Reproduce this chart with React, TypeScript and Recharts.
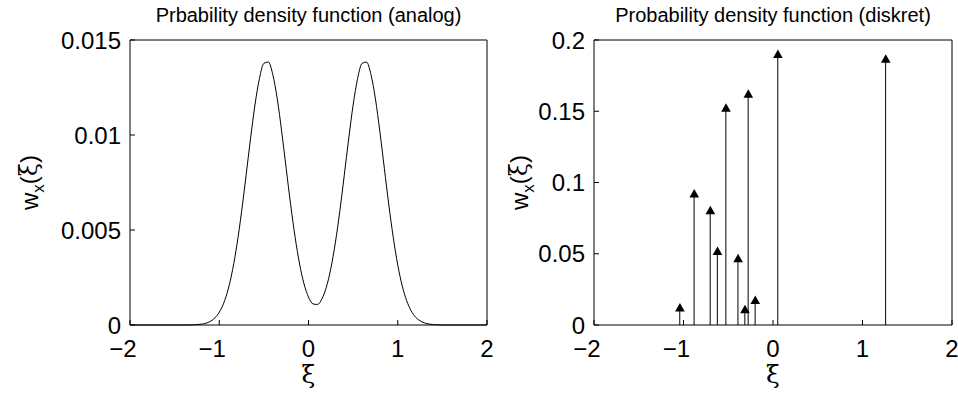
import React from 'react';
import { LineChart, ComposedChart, Line, Bar, Scatter, XAxis, YAxis } from 'recharts';

// analog density
const analogXi = [
    -2, -1.5, -1.45, -1.4, -1.35, -1.3, -1.25, -1.2, -1.15, -1.1,
    -1.05, -1, -0.95, -0.9, -0.85, -0.8, -0.75, -0.7, -0.65, -0.6,
    -0.55, -0.5, -0.45, -0.4, -0.35, -0.3, -0.25, -0.2, -0.15, -0.1,
    -0.05, 0, 0.05, 0.1, 0.15, 0.2, 0.25, 0.3, 0.35, 0.4,
    0.45, 0.5, 0.55, 0.6, 0.65, 0.7, 0.75, 0.8, 0.85, 0.9,
    0.95, 1, 1.05, 1.1, 1.15, 1.2, 1.25, 1.3, 1.35, 1.4,
    1.45, 1.5, 1.55, 1.6, 2,
];
const analogW = [
    0, 0, 0, 0.000001, 0.000003, 0.000008, 0.000019, 0.000044, 0.000093, 0.00019,
    0.00037, 0.00067, 0.00115, 0.00188, 0.00292, 0.00428, 0.00596, 0.00785, 0.00979, 0.01158,
    0.01297, 0.01377, 0.01384, 0.01318, 0.0119, 0.01017, 0.00824, 0.00633, 0.00462, 0.00321,
    0.00216, 0.00147, 0.00111, 0.00108, 0.00137, 0.00199, 0.00297, 0.00431, 0.00596, 0.00785,
    0.00979, 0.01158, 0.01297, 0.01377, 0.01384, 0.01318, 0.0119, 0.01017, 0.00824, 0.00632,
    0.0046, 0.00316, 0.00206, 0.00128, 0.00075, 0.00041, 0.00022, 0.00011, 0.00005, 0.00002,
    0.00001, 0, 0, 0, 0,
];

// discrete probabilities (stems)
const diskretXi = [-1.04, -0.88, -0.7, -0.62, -0.525, -0.39, -0.313, -0.276, -0.198, 0.055, 1.26];
const diskretW = [0.0123, 0.0922, 0.0805, 0.0519, 0.1524, 0.0468, 0.0111, 0.1622, 0.0176, 0.1902, 0.1869];

const xTicks = [-2, -1, 0, 1, 2];
const analogYTicks = [0, 0.005, 0.01, 0.015];
const diskretYTicks = [0, 0.05, 0.1, 0.15, 0.2];

const FONT = '"Liberation Sans", Arial, Helvetica, sans-serif';
const SERIF = '"DejaVu Serif", "Liberation Serif", serif';
const TICK_FS = 24;

const analogData = analogXi.map((xi, i) => ({ xi, w: analogW[i] }));
const diskretData = diskretXi.map((xi, i) => ({ xi, w: diskretW[i] }));

// x tick: digit centred on the tick, minus sign hanging to the left
const XTick = (props: any) => {
    const { x, y, payload } = props;
    const v = payload.value as number;
    const label = v < 0 ? '\u2212' + Math.abs(v) : String(v);
    return (
        <text
            x={v < 0 ? x + TICK_FS * 0.278 : x}
            y={y}
            dy="0.71em"
            textAnchor={v < 0 ? 'end' : 'middle'}
            fontSize={TICK_FS}
            fontFamily={FONT}
            fill="#000"
        >
            {label}
        </text>
    );
};

const XLabel = (props: any) => {
    const { viewBox } = props;
    return (
        <text
            x={viewBox.x + viewBox.width / 2}
            y={383}
            textAnchor="middle"
            fontSize={25}
            fontFamily={SERIF}
            fill="#000"
        >
            ξ
        </text>
    );
};

const YLabel = (props: any) => {
    const { viewBox } = props;
    const cx = 38;
    const cy = viewBox.y + viewBox.height / 2;
    return (
        <text
            x={cx}
            y={cy}
            transform={`rotate(-90 ${cx} ${cy})`}
            textAnchor="middle"
            fontSize={24}
            fontFamily={FONT}
            fill="#000"
        >
            <tspan>w</tspan>
            <tspan fontSize={17} dy={6}>x</tspan>
            <tspan dy={-7}>(</tspan>
            <tspan fontFamily={SERIF}>ξ</tspan>
            <tspan>)</tspan>
        </text>
    );
};

// upward triangle marker on top of each stem
const Arrow = (props: any) => {
    const { cx, cy } = props;
    if (cx == null || cy == null) return null;
    return <path d={`M${cx},${cy - 4.5} L${cx + 4.8},${cy + 4} L${cx - 4.8},${cy + 4} Z`} fill="#000" />;
};

const axisStroke = { stroke: '#000', strokeWidth: 1 };
const yTickStyle = { fontSize: TICK_FS, fill: '#000', fontFamily: FONT };

const Title: React.FC<{ left: number; width: number; text: string }> = ({ left, width, text }) => (
    <div
        style={{
            position: 'absolute',
            left,
            top: 5,
            width,
            textAlign: 'center',
            fontSize: 20,
            lineHeight: '20px',
            fontFamily: FONT,
            color: '#000',
            whiteSpace: 'nowrap',
        }}
    >
        {text}
    </div>
);

const App: React.FC = () => {
    return (
        <div style={{ position: 'absolute', left: 0, top: 0, width: 958, height: 394, background: '#fff' }}>
            <Title left={130} width={357} text="Prbability density function (analog)" />
            <Title left={594} width={358} text="Probability density function (diskret)" />

            <div style={{ position: 'absolute', left: 0, top: 0 }}>
                <LineChart width={520} height={394} data={analogData} margin={{ top: 39, right: 32, bottom: 0, left: 0 }}>
                    <XAxis
                        dataKey="xi"
                        type="number"
                        domain={[-2, 2]}
                        ticks={xTicks}
                        height={69}
                        tickSize={-5}
                        tickMargin={20}
                        axisLine={axisStroke}
                        tickLine={axisStroke}
                        tick={<XTick />}
                        label={<XLabel />}
                    />
                    <XAxis
                        xAxisId="top"
                        orientation="top"
                        dataKey="xi"
                        type="number"
                        domain={[-2, 2]}
                        ticks={xTicks}
                        height={1}
                        tickSize={-5}
                        axisLine={axisStroke}
                        tickLine={axisStroke}
                        tick={false}
                    />
                    <YAxis
                        yAxisId="left"
                        type="number"
                        domain={[0, 0.015]}
                        ticks={analogYTicks}
                        width={130}
                        tickSize={-5}
                        tickMargin={14}
                        axisLine={axisStroke}
                        tickLine={axisStroke}
                        tick={yTickStyle}
                        label={<YLabel />}
                    />
                    <YAxis
                        yAxisId="right"
                        orientation="right"
                        type="number"
                        domain={[0, 0.015]}
                        ticks={analogYTicks}
                        width={1}
                        tickSize={-5}
                        axisLine={axisStroke}
                        tickLine={axisStroke}
                        tick={false}
                    />
                    <Line
                        yAxisId="left"
                        type="monotone"
                        dataKey="w"
                        stroke="#000"
                        strokeWidth={1}
                        dot={false}
                        isAnimationActive={false}
                    />
                </LineChart>
            </div>

            <div style={{ position: 'absolute', left: 490, top: 0 }}>
                <ComposedChart width={468} height={394} data={diskretData} margin={{ top: 39, right: 5, bottom: 0, left: 0 }}>
                    <XAxis
                        dataKey="xi"
                        type="number"
                        domain={[-2, 2]}
                        ticks={xTicks}
                        height={69}
                        tickSize={-5}
                        tickMargin={20}
                        axisLine={axisStroke}
                        tickLine={axisStroke}
                        tick={<XTick />}
                        label={<XLabel />}
                    />
                    <XAxis
                        xAxisId="top"
                        orientation="top"
                        dataKey="xi"
                        type="number"
                        domain={[-2, 2]}
                        ticks={xTicks}
                        height={1}
                        tickSize={-5}
                        axisLine={axisStroke}
                        tickLine={axisStroke}
                        tick={false}
                    />
                    <YAxis
                        yAxisId="left"
                        type="number"
                        domain={[0, 0.2]}
                        ticks={diskretYTicks}
                        width={104}
                        tickSize={-5}
                        tickMargin={14}
                        axisLine={axisStroke}
                        tickLine={axisStroke}
                        tick={yTickStyle}
                        label={<YLabel />}
                    />
                    <YAxis
                        yAxisId="right"
                        orientation="right"
                        type="number"
                        domain={[0, 0.2]}
                        ticks={diskretYTicks}
                        width={1}
                        tickSize={-5}
                        axisLine={axisStroke}
                        tickLine={axisStroke}
                        tick={false}
                    />
                    <Bar yAxisId="left" dataKey="w" barSize={1} fill="#000" isAnimationActive={false} />
                    <Scatter yAxisId="left" dataKey="w" shape={<Arrow />} isAnimationActive={false} />
                </ComposedChart>
            </div>
        </div>
    );
};

export default App;
